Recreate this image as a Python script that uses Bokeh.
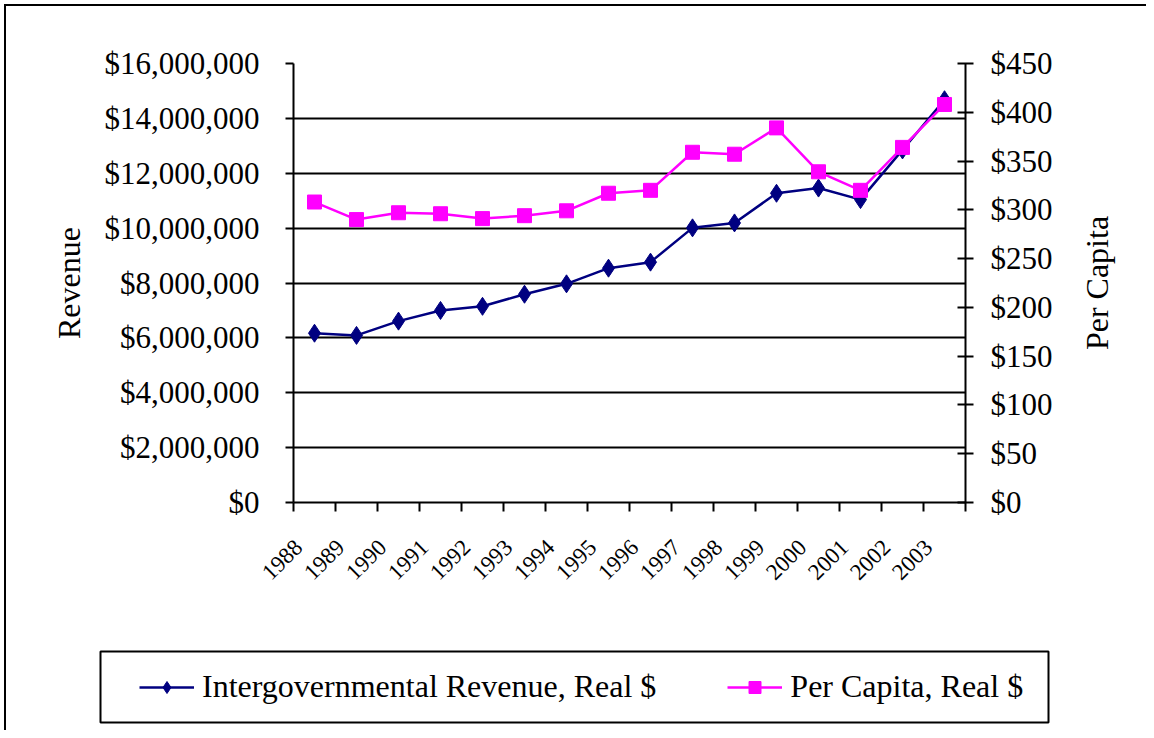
from bokeh.plotting import figure
from bokeh.models import (Range1d, LinearAxis, FixedTicker, NumeralTickFormatter,
                          Legend, LegendItem, Label)
from bokeh.layouts import column, row
from bokeh.embed import file_html
from bokeh.resources import INLINE
import math

years = ["1988", "1989", "1990", "1991", "1992", "1993", "1994", "1995",
         "1996", "1997", "1998", "1999", "2000", "2001", "2002", "2003"]
revenue = [6170000, 6090000, 6610000, 7000000, 7150000, 7590000, 7970000, 8540000,
           8760000, 10010000, 10190000, 11270000, 11460000, 11040000, 12850000, 14680000]
per_capita = [308, 290, 297, 296, 291, 294, 299, 317,
              320, 359, 357, 384, 339, 320, 364, 408]
left_ticks = [0, 2000000, 4000000, 6000000, 8000000, 10000000, 12000000, 14000000, 16000000]
right_ticks = [0, 50, 100, 150, 200, 250, 300, 350, 400, 450]

FONT = "Liberation Serif"
NAVY = "#000080"
MAGENTA = "#FF00FF"

xs = [i + 0.5 for i in range(len(years))]
label_pos = [i + 0.12 for i in range(len(years))]   # rotated labels end a little left of centre

p = figure(width=1054, height=630, output_backend="svg", toolbar_location=None,
           x_range=Range1d(0, len(years)), y_range=Range1d(0, 16000000),
           min_border_left=287, min_border_right=95, min_border_top=57,
           min_border_bottom=134)
p.extra_y_ranges = {"pc": Range1d(0, 450)}
p.outline_line_color = None
p.background_fill_color = "white"
p.border_fill_color = "white"

# x axis: labels under categories, ticks at category boundaries
xa = p.xaxis[0]
xa.ticker = FixedTicker(ticks=label_pos, minor_ticks=list(range(len(years) + 1)))
xa.major_label_overrides = {x: y for x, y in zip(label_pos, years)}
xa.major_tick_out = 0
xa.major_tick_in = 0
xa.minor_tick_out = 9
xa.minor_tick_in = 0
xa.minor_tick_line_color = "black"
xa.minor_tick_line_width = 2
xa.axis_line_width = 2
xa.axis_line_color = "black"
xa.major_label_orientation = math.pi / 4
xa.major_label_text_font = FONT
xa.major_label_text_font_size = "23px"
xa.major_label_text_color = "black"
xa.major_label_standoff = 32

# left axis
ya = p.yaxis[0]
ya.ticker = FixedTicker(ticks=left_ticks)
ya.formatter = NumeralTickFormatter(format="$0,0")
ya.axis_label = "Revenue"
ya.axis_label_text_font = FONT
ya.axis_label_text_font_size = "32px"
ya.axis_label_text_font_style = "normal"
ya.axis_label_text_color = "black"
ya.axis_label_standoff = 15
ya.major_label_text_font = FONT
ya.major_label_text_font_size = "31px"
ya.major_label_text_color = "black"
ya.major_label_standoff = 26
ya.major_tick_out = 8
ya.major_tick_in = 0
ya.major_tick_line_width = 2
ya.minor_tick_line_color = None
ya.axis_line_width = 2

# right axis (its title is drawn in the side panel below)
ra = LinearAxis(y_range_name="pc", ticker=FixedTicker(ticks=right_ticks),
                formatter=NumeralTickFormatter(format="$0,0"))
ra.major_label_text_font = FONT
ra.major_label_text_font_size = "31px"
ra.major_label_text_color = "black"
ra.major_label_standoff = 17
ra.major_tick_out = 8
ra.major_tick_in = 8
ra.major_tick_line_width = 2
ra.minor_tick_line_color = None
ra.axis_line_width = 2
p.add_layout(ra, "right")

p.xgrid.grid_line_color = None
p.ygrid.ticker = FixedTicker(ticks=left_ticks)
p.ygrid.grid_line_color = "black"
p.ygrid.grid_line_width = 2

# series
p.line(xs, revenue, line_color=NAVY, line_width=2.5)
p.scatter(xs, revenue, marker="diamond", size=18, fill_color=NAVY, line_color=NAVY)
p.line(xs, per_capita, line_color=MAGENTA, line_width=2.5, y_range_name="pc")
p.scatter(xs, per_capita, marker="square", size=14, fill_color=MAGENTA,
          line_color=MAGENTA, y_range_name="pc")

# side panel carrying the right axis title, reading bottom to top
side = figure(width=86, height=630, output_backend="svg", toolbar_location=None,
              x_range=Range1d(0, 86), y_range=Range1d(0, 1),
              x_axis_location=None, y_axis_location=None,
              min_border_left=0, min_border_right=0, min_border_top=57,
              min_border_bottom=134)
side.grid.visible = False
side.outline_line_color = None
side.background_fill_color = "white"
side.border_fill_color = "white"
side.add_layout(Label(x=36, y=0.5, text="Per Capita", angle=math.pi / 2,
                      text_align="center", text_baseline="middle",
                      text_font=FONT, text_font_size="32px", text_color="black"))

# legend panel: its frame is the legend box
lg = figure(width=1140, height=94, output_backend="svg", toolbar_location=None,
            x_range=Range1d(-10, -9), y_range=Range1d(-10, -9),
            x_axis_location=None, y_axis_location=None,
            min_border_left=94, min_border_right=98, min_border_top=15,
            min_border_bottom=8)
lg.grid.visible = False
lg.outline_line_color = "black"
lg.outline_line_width = 2
lg.background_fill_color = "white"
lg.border_fill_color = "white"
l1 = lg.line(xs, revenue, line_color=NAVY, line_width=2.5)
l2 = lg.scatter(xs, revenue, marker="diamond", size=18, fill_color=NAVY, line_color=NAVY)
l3 = lg.line(xs, per_capita, line_color=MAGENTA, line_width=2.5)
l4 = lg.scatter(xs, per_capita, marker="square", size=14, fill_color=MAGENTA,
                line_color=MAGENTA)

legend = Legend(items=[LegendItem(label="Intergovernmental Revenue, Real $", renderers=[l1, l2]),
                       LegendItem(label="Per Capita, Real $", renderers=[l3, l4])],
                orientation="horizontal", location=(39, 17),
                label_text_font=FONT, label_text_font_size="32px",
                label_text_color="black",
                glyph_width=55, glyph_height=30, label_height=30,
                label_standoff=8, spacing=71, padding=0, margin=0,
                border_line_color=None, background_fill_alpha=0)
lg.add_layout(legend, "center")

layout = column(row(p, side, spacing=0), column(lg), spacing=0)
layout.margin = (4, 0, 0, 4)
layout.styles = {"border-left": "2px solid black", "border-top": "2px solid black"}

open("out.html", "w").write(file_html(layout, INLINE))
